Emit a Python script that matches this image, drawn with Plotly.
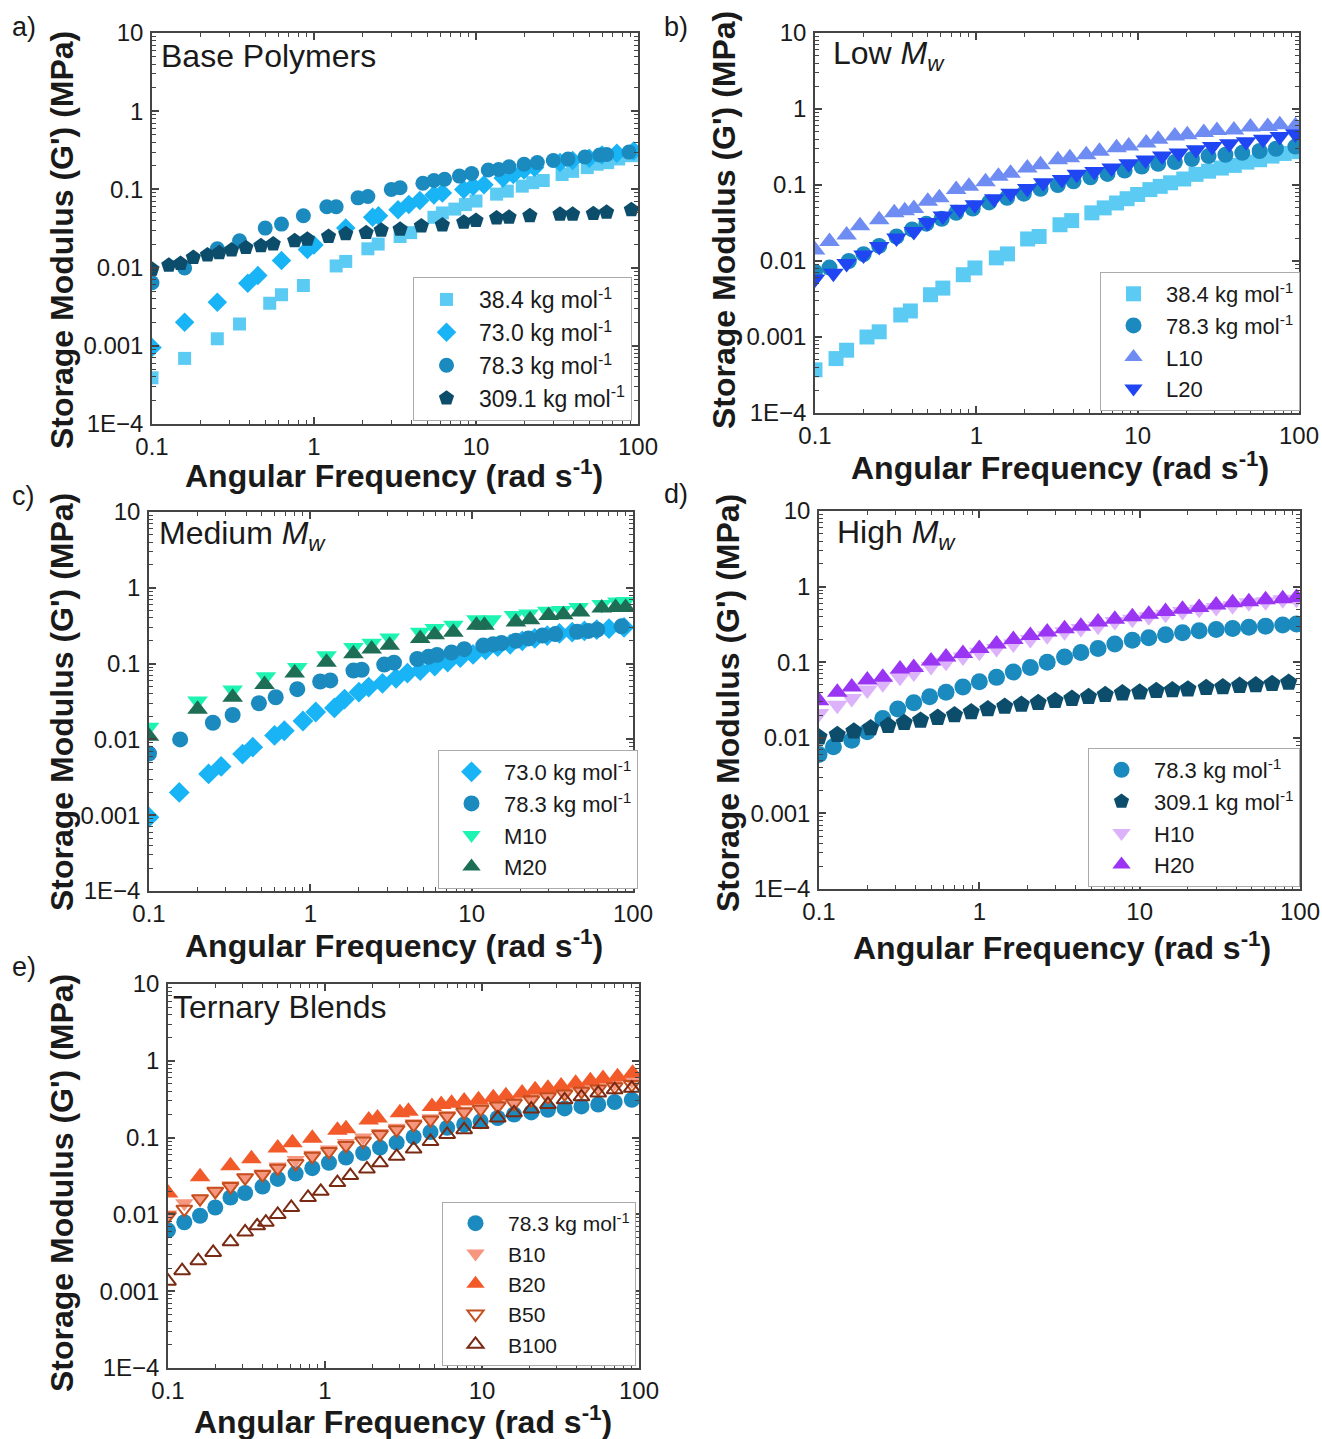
import plotly.graph_objects as go

W, H = 1322, 1439

# ---------------- data ----------------
# Panel a: Base Polymers
a_w_384 = [0.1, 0.159, 0.253, 0.347, 0.533, 0.63, 0.86, 1.37, 1.57, 2.15, 2.49, 3.4, 3.95, 5.5, 6.2, 7.4, 8.6, 10, 13.4, 15.6, 19.3, 22.4, 26, 34, 39.5, 48.6, 56, 65, 76, 91]
a_g_384 = [3.9e-4, 6.9e-4, 1.23e-3, 1.9e-3, 3.5e-3, 4.5e-3, 5.9e-3, 0.0105, 0.012, 0.0174, 0.02, 0.025, 0.028, 0.044, 0.05, 0.056, 0.064, 0.071, 0.087, 0.095, 0.11, 0.122, 0.13, 0.155, 0.17, 0.19, 0.21, 0.22, 0.245, 0.27]
a_w_730 = [0.1, 0.159, 0.253, 0.39, 0.45, 0.63, 0.91, 1.0, 1.57, 2.3, 2.5, 3.3, 3.85, 4.5, 5.5, 6.2, 8.4, 9.6, 11.2, 14.7, 17, 19.8, 23, 33, 39.5, 50, 60, 74, 94]
a_g_730 = [9.5e-4, 2.0e-3, 3.6e-3, 6.3e-3, 7.9e-3, 0.0123, 0.017, 0.0195, 0.032, 0.044, 0.046, 0.055, 0.064, 0.072, 0.085, 0.09, 0.1, 0.11, 0.115, 0.14, 0.155, 0.177, 0.19, 0.22, 0.235, 0.25, 0.275, 0.29, 0.31]
a_w_783 = [0.1, 0.159, 0.253, 0.347, 0.5, 0.63, 0.86, 1.2, 1.37, 1.87, 2.15, 3.0, 3.4, 4.7, 5.5, 6.4, 7.9, 9.4, 11.9, 13.8, 16, 19.8, 23.9, 30, 37, 47, 58, 64, 88]
a_g_783 = [6.4e-3, 9.9e-3, 0.0174, 0.022, 0.032, 0.036, 0.046, 0.06, 0.06, 0.078, 0.081, 0.1, 0.105, 0.12, 0.13, 0.135, 0.148, 0.16, 0.177, 0.18, 0.195, 0.21, 0.22, 0.234, 0.245, 0.26, 0.275, 0.28, 0.30]
a_w_3091 = [0.1, 0.127, 0.15, 0.18, 0.22, 0.26, 0.31, 0.38, 0.47, 0.56, 0.76, 0.91, 1.23, 1.57, 2.1, 2.6, 3.4, 4.6, 6.2, 8.4, 10, 13.4, 16, 21.5, 33, 39.5, 53, 64, 91]
a_g_3091 = [0.0095, 0.0107, 0.0113, 0.0135, 0.0145, 0.0155, 0.0168, 0.018, 0.019, 0.02, 0.022, 0.023, 0.025, 0.027, 0.028, 0.030, 0.031, 0.034, 0.035, 0.038, 0.040, 0.043, 0.044, 0.046, 0.048, 0.048, 0.049, 0.051, 0.055]

# Panel b: Low Mw
b_w_384 = [0.1, 0.135, 0.157, 0.21, 0.25, 0.34, 0.39, 0.52, 0.62, 0.83, 0.98, 1.33, 1.56, 2.08, 2.45, 3.3, 3.9, 5.2, 6.2, 7.4, 8.6, 10, 11.9, 13.8, 16, 19.3, 23, 27.5, 33, 39.7, 47.5, 57, 68, 81, 100]
b_g_384 = [3.7e-4, 5.2e-4, 6.7e-4, 1.0e-3, 1.17e-3, 1.95e-3, 2.2e-3, 3.6e-3, 4.4e-3, 6.6e-3, 8.1e-3, 0.011, 0.0124, 0.0195, 0.021, 0.030, 0.034, 0.043, 0.05, 0.058, 0.066, 0.075, 0.087, 0.096, 0.107, 0.12, 0.138, 0.152, 0.167, 0.181, 0.2, 0.215, 0.24, 0.26, 0.275]
b_w_783 = [0.1, 0.123, 0.162, 0.2, 0.25, 0.32, 0.4, 0.49, 0.61, 0.75, 0.95, 1.2, 1.55, 1.97, 2.5, 3.2, 4.0, 5.1, 6.5, 8.3, 10.6, 13.4, 17, 21.7, 27.5, 35, 44.5, 57, 72, 95]
b_g_783 = [7.2e-3, 8.2e-3, 0.01, 0.0123, 0.0158, 0.021, 0.026, 0.031, 0.036, 0.043, 0.049, 0.059, 0.068, 0.077, 0.089, 0.1, 0.112, 0.126, 0.14, 0.155, 0.175, 0.19, 0.2, 0.22, 0.24, 0.25, 0.265, 0.28, 0.30, 0.32]
b_w_L10 = [0.1, 0.123, 0.157, 0.19, 0.25, 0.31, 0.36, 0.41, 0.5, 0.59, 0.75, 0.9, 1.14, 1.37, 1.63, 2.07, 2.5, 3.2, 3.8, 4.8, 5.8, 7.4, 8.8, 11.3, 13.4, 17, 20.3, 25.7, 31, 39.5, 50, 64, 76, 95]
b_g_L10 = [0.014, 0.018, 0.022, 0.029, 0.035, 0.043, 0.046, 0.049, 0.061, 0.068, 0.087, 0.096, 0.11, 0.13, 0.143, 0.167, 0.185, 0.215, 0.228, 0.25, 0.277, 0.31, 0.325, 0.357, 0.4, 0.44, 0.46, 0.49, 0.52, 0.53, 0.58, 0.59, 0.62, 0.6]
b_w_L20 = [0.1, 0.13, 0.157, 0.2, 0.25, 0.32, 0.41, 0.5, 0.62, 0.79, 0.98, 1.29, 1.63, 2.07, 2.6, 3.4, 4.2, 5.4, 6.9, 8.8, 11.2, 14.2, 18, 23, 29, 37, 47, 60, 76, 95]
b_g_L20 = [5.8e-3, 6.9e-3, 9.3e-3, 0.012, 0.0155, 0.02, 0.0245, 0.032, 0.039, 0.048, 0.055, 0.066, 0.078, 0.09, 0.107, 0.118, 0.138, 0.151, 0.167, 0.19, 0.214, 0.24, 0.264, 0.29, 0.32, 0.35, 0.37, 0.4, 0.435, 0.47]

# Panel c: Medium Mw
c_w_730 = [0.1, 0.154, 0.234, 0.28, 0.38, 0.44, 0.6, 0.69, 0.9, 1.08, 1.41, 1.63, 2.0, 2.3, 2.8, 3.4, 4.0, 4.8, 5.9, 7.1, 8.5, 10.2, 12.2, 14.5, 17.3, 20.6, 24.6, 29.4, 35, 42, 50, 59.6, 71, 88]
c_g_730 = [9.4e-4, 2.0e-3, 3.5e-3, 4.4e-3, 6.4e-3, 7.9e-3, 0.0113, 0.013, 0.0175, 0.023, 0.026, 0.034, 0.042, 0.049, 0.055, 0.064, 0.075, 0.081, 0.093, 0.105, 0.12, 0.132, 0.152, 0.167, 0.18, 0.2, 0.215, 0.234, 0.25, 0.26, 0.27, 0.28, 0.29, 0.30]
c_w_783 = [0.1, 0.156, 0.249, 0.33, 0.48, 0.61, 0.83, 1.15, 1.33, 1.85, 2.08, 2.87, 3.3, 4.6, 5.4, 6.1, 7.5, 9.0, 11.8, 13.6, 15.3, 18.8, 22.5, 27.5, 33, 45, 53, 60, 85]
c_g_783 = [6.5e-3, 0.01, 0.0166, 0.021, 0.03, 0.036, 0.046, 0.058, 0.06, 0.081, 0.083, 0.097, 0.103, 0.115, 0.123, 0.13, 0.14, 0.155, 0.173, 0.18, 0.187, 0.2, 0.215, 0.234, 0.245, 0.263, 0.27, 0.28, 0.31]
c_w_M10 = [0.1, 0.2, 0.33, 0.53, 0.83, 1.26, 1.85, 2.4, 3.1, 4.8, 5.9, 7.7, 10.7, 13.3, 18.3, 22.5, 29.4, 36, 46, 64, 80, 90]
c_g_M10 = [0.0145, 0.032, 0.045, 0.067, 0.089, 0.127, 0.163, 0.185, 0.217, 0.26, 0.29, 0.32, 0.38, 0.38, 0.43, 0.45, 0.49, 0.5, 0.55, 0.6, 0.65, 0.66]
c_w_M20 = [0.1, 0.2, 0.33, 0.52, 0.8, 1.26, 1.85, 2.4, 3.1, 4.8, 5.9, 7.7, 10.7, 12, 18.8, 23, 30, 37, 47, 64, 78, 90]
c_g_M20 = [0.011, 0.025, 0.036, 0.053, 0.075, 0.104, 0.135, 0.156, 0.174, 0.215, 0.24, 0.26, 0.32, 0.32, 0.355, 0.38, 0.43, 0.44, 0.48, 0.54, 0.55, 0.55]

# Panel d: High Mw
d_w_783 = [0.1, 0.123, 0.16, 0.2, 0.25, 0.31, 0.39, 0.49, 0.62, 0.79, 1.0, 1.28, 1.63, 2.08, 2.65, 3.4, 4.3, 5.5, 7.0, 9.0, 11.4, 14.5, 18.5, 23.5, 30, 38, 48, 61, 78, 95]
d_g_783 = [6.0e-3, 7.6e-3, 9.3e-3, 0.012, 0.018, 0.024, 0.029, 0.035, 0.04, 0.047, 0.055, 0.063, 0.074, 0.085, 0.1, 0.117, 0.134, 0.152, 0.174, 0.195, 0.21, 0.23, 0.245, 0.26, 0.27, 0.28, 0.29, 0.30, 0.31, 0.32]
d_w_3091 = [0.1, 0.13, 0.165, 0.21, 0.27, 0.34, 0.43, 0.55, 0.7, 0.89, 1.13, 1.44, 1.83, 2.33, 2.97, 3.78, 4.8, 6.1, 7.8, 10, 12.7, 16, 20, 26, 33, 42, 53, 67, 85]
d_g_3091 = [0.0102, 0.011, 0.0122, 0.0135, 0.0145, 0.0158, 0.017, 0.0185, 0.02, 0.022, 0.024, 0.026, 0.0275, 0.029, 0.031, 0.033, 0.035, 0.037, 0.039, 0.040, 0.042, 0.043, 0.044, 0.046, 0.047, 0.049, 0.05, 0.052, 0.054]
d_w_H = [0.1, 0.13, 0.16, 0.2, 0.25, 0.32, 0.39, 0.5, 0.62, 0.79, 1.0, 1.28, 1.63, 2.08, 2.65, 3.4, 4.3, 5.5, 7.0, 9.0, 11.4, 14.5, 18.5, 23.5, 30, 38, 48, 61, 78, 95]
d_g_H10 = [0.021, 0.027, 0.033, 0.043, 0.052, 0.063, 0.072, 0.088, 0.1, 0.117, 0.135, 0.152, 0.174, 0.2, 0.224, 0.253, 0.28, 0.30, 0.345, 0.37, 0.40, 0.43, 0.47, 0.5, 0.53, 0.56, 0.61, 0.63, 0.67, 0.68]
d_g_H20 = [0.031, 0.04, 0.047, 0.058, 0.063, 0.081, 0.085, 0.104, 0.117, 0.13, 0.152, 0.174, 0.2, 0.225, 0.25, 0.276, 0.30, 0.34, 0.37, 0.40, 0.43, 0.47, 0.5, 0.53, 0.57, 0.61, 0.63, 0.67, 0.69, 0.72]

# Panel e: Ternary Blends
e_w = [0.1, 0.127, 0.16, 0.2, 0.25, 0.31, 0.4, 0.5, 0.65, 0.83, 1.06, 1.36, 1.75, 2.24, 2.86, 3.67, 4.7, 6.0, 7.7, 9.8, 12.6, 16, 20.6, 26.3, 33.6, 43, 55, 70, 90]
e_g_783 = [6.2e-3, 7.9e-3, 9.6e-3, 0.0123, 0.0166, 0.019, 0.023, 0.029, 0.034, 0.04, 0.047, 0.055, 0.063, 0.074, 0.086, 0.102, 0.118, 0.134, 0.148, 0.163, 0.18, 0.2, 0.213, 0.23, 0.24, 0.255, 0.27, 0.29, 0.31]
e_g_B10 = [0.01, 0.014, 0.016, 0.02, 0.024, 0.03, 0.034, 0.042, 0.051, 0.06, 0.07, 0.085, 0.1, 0.115, 0.134, 0.154, 0.178, 0.196, 0.224, 0.247, 0.27, 0.30, 0.33, 0.365, 0.40, 0.43, 0.47, 0.51, 0.55]
e_w_B20 = [0.1, 0.16, 0.25, 0.34, 0.5, 0.62, 0.83, 1.2, 1.36, 1.9, 2.16, 3.0, 3.4, 4.8, 5.5, 6.4, 7.7, 9.5, 11.8, 14.2, 18, 21.8, 26.3, 31.9, 39.5, 49, 59, 73, 91]
e_g_B20 = [0.019, 0.031, 0.043, 0.053, 0.073, 0.086, 0.098, 0.125, 0.13, 0.17, 0.18, 0.21, 0.22, 0.255, 0.27, 0.28, 0.30, 0.31, 0.33, 0.35, 0.38, 0.42, 0.44, 0.47, 0.51, 0.55, 0.59, 0.62, 0.69]
e_g_B50 = [0.0095, 0.0117, 0.016, 0.02, 0.023, 0.03, 0.033, 0.04, 0.046, 0.057, 0.066, 0.079, 0.09, 0.11, 0.127, 0.148, 0.17, 0.19, 0.215, 0.234, 0.257, 0.28, 0.31, 0.34, 0.37, 0.40, 0.43, 0.46, 0.49]
e_w_B100 = [0.1, 0.123, 0.156, 0.194, 0.25, 0.31, 0.37, 0.42, 0.5, 0.61, 0.78, 0.94, 1.2, 1.45, 1.85, 2.24, 2.86, 3.67, 4.7, 6.0, 7.7, 9.8, 12.6, 16, 20.6, 26.3, 33.6, 43, 55, 70, 90]
e_g_B100 = [1.35e-3, 1.85e-3, 2.5e-3, 3.2e-3, 4.4e-3, 5.9e-3, 7.1e-3, 7.9e-3, 0.01, 0.0123, 0.0166, 0.02, 0.026, 0.032, 0.039, 0.047, 0.057, 0.071, 0.089, 0.11, 0.127, 0.148, 0.18, 0.21, 0.235, 0.27, 0.31, 0.34, 0.38, 0.42, 0.44]

x_tickvals = [0.1, 1, 10, 100]
x_ticktext = ["0.1", "1", "10", "100"]
y_tickvals = [10, 1, 0.1, 0.01, 0.001, 0.0001]
y_ticktext = ["10", "1", "0.1", "0.01", "0.001", "1E\u22124"]

LBL = {
    "384": "38.4 kg mol<sup>-1</sup>",
    "730": "73.0 kg mol<sup>-1</sup>",
    "783": "78.3 kg mol<sup>-1</sup>",
    "3091": "309.1 kg mol<sup>-1</sup>",
}

# ---------------- styles ----------------
C384, C730, C783, C3091 = "#5CCBF3", "#19B4F5", "#1A8ABF", "#0D4D6C"
FONT = "Liberation Sans, Arial, sans-serif"

# panel boxes in pixels: (x_left, x_right, y_top, y_bottom)
boxes = {
    1: (152, 638, 33, 424),
    2: (815, 1299, 33, 413),
    3: (149, 633, 512, 891),
    4: (819, 1300, 511, 889),
    5: (168, 639, 984, 1368),
}
# legend boxes: (right, bottom, font size)
legpos = {1: (632, 421, 23), 2: (1300, 411, 22), 3: (638, 889, 22), 4: (1300, 887, 22), 5: (636, 1366, 21)}

fig = go.Figure()

def add(panel, x, y, name, symbol, color, size, open_=False):
    ax = "" if panel == 1 else str(panel)
    lg = "legend" if panel == 1 else "legend%d" % panel
    if open_:
        marker = dict(symbol=symbol, size=size, color=color, line=dict(color=color, width=2))
    else:
        marker = dict(symbol=symbol, size=size, color=color, line=dict(width=0))
    fig.add_trace(go.Scatter(x=x, y=y, mode="markers", name=name, marker=marker,
                             xaxis="x" + ax, yaxis="y" + ax, legend=lg,
                             legendgroup="p%d_%s" % (panel, name)))

# a
add(1, a_w_384, a_g_384, LBL["384"], "square", C384, 13)
add(1, a_w_730, a_g_730, LBL["730"], "diamond", C730, 15)
add(1, a_w_783, a_g_783, LBL["783"], "circle", C783, 15)
add(1, a_w_3091, a_g_3091, LBL["3091"], "pentagon", C3091, 16)
# b
add(2, b_w_384, b_g_384, LBL["384"], "square", C384, 15)
add(2, b_w_783, b_g_783, LBL["783"], "circle", C783, 16)
add(2, b_w_L10, b_g_L10, "L10", "triangle-up", "#6F8CF3", 18)
add(2, b_w_L20, b_g_L20, "L20", "triangle-down", "#1F46F2", 18)
# c
add(3, c_w_730, c_g_730, LBL["730"], "diamond", C730, 16)
add(3, c_w_783, c_g_783, LBL["783"], "circle", C783, 16)
add(3, c_w_M10, c_g_M10, "M10", "triangle-down", "#1EF4B2", 18)
add(3, c_w_M20, c_g_M20, "M20", "triangle-up", "#1E6E56", 18)
# d
add(4, d_w_783, d_g_783, LBL["783"], "circle", C783, 17)
add(4, d_w_3091, d_g_3091, LBL["3091"], "pentagon", C3091, 18)
add(4, d_w_H, d_g_H10, "H10", "triangle-down", "#DCB2FA", 18)
add(4, d_w_H, d_g_H20, "H20", "triangle-up", "#9A36F3", 18)
# e
add(5, e_w, e_g_783, LBL["783"], "circle", C783, 16)
add(5, e_w, e_g_B10, "B10", "triangle-down", "#F6967F", 16)
add(5, e_w_B20, e_g_B20, "B20", "triangle-up", "#F25A2A", 18)
add(5, e_w, e_g_B50, "B50", "triangle-down-open", "#C44E1E", 14, open_=True)
add(5, e_w_B100, e_g_B100, "B100", "triangle-up-open", "#7A2A12", 14, open_=True)

layout = dict(
    width=W, height=H, margin=dict(l=0, r=0, t=0, b=0, autoexpand=False),
    paper_bgcolor="white", plot_bgcolor="white",
    font=dict(family=FONT, color="#1a1a1a", size=24),
    showlegend=True,
)

axcol = "#444444"
for p, (x0, x1, yt, yb) in boxes.items():
    ax = "" if p == 1 else str(p)
    layout["xaxis" + ax] = dict(
        type="log", range=[-1, 2], domain=[x0 / W, x1 / W], anchor="y" + ax,
        automargin=False,
        tickmode="array", tickvals=x_tickvals, ticktext=x_ticktext,
        ticks="inside", ticklen=7, tickwidth=1.5, tickcolor=axcol,
        showline=True, linecolor=axcol, linewidth=1.5, mirror="allticks",
        showgrid=False, zeroline=False,
        tickfont=dict(size=24, family=FONT, color="#1a1a1a"),
        minor=dict(ticks="inside", ticklen=4, tickwidth=1, tickcolor=axcol, dtick="D1", showgrid=False),
    )
    layout["yaxis" + ax] = dict(
        type="log", range=[-4, 1], domain=[1 - yb / H, 1 - yt / H], anchor="x" + ax,
        automargin=False,
        tickmode="array", tickvals=y_tickvals, ticktext=y_ticktext,
        ticks="inside", ticklen=7, tickwidth=1.5, tickcolor=axcol,
        showline=True, linecolor=axcol, linewidth=1.5, mirror="allticks",
        showgrid=False, zeroline=False, ticklabelstandoff=2,
        tickfont=dict(size=24, family=FONT, color="#1a1a1a"),
        minor=dict(ticks="inside", ticklen=4, tickwidth=1, tickcolor=axcol, dtick="D1", showgrid=False),
    )
    lg = "legend" if p == 1 else "legend%d" % p
    r, b, fs = legpos[p]
    layout[lg] = dict(
        x=r / W, y=1 - b / H, xanchor="right", yanchor="bottom",
        bgcolor="white", bordercolor="#aaaaaa", borderwidth=1,
        font=dict(size=fs, family=FONT, color="#1a1a1a"),
        tracegroupgap=0, itemwidth=55, traceorder="normal",
    )

ann = []
def A(text, x, y, size, bold=False, angle=0, xanchor="center", yanchor="middle"):
    t = "<b>%s</b>" % text if bold else text
    ann.append(dict(text=t, x=x / W, y=1 - y / H, xref="paper", yref="paper",
                    showarrow=False, textangle=angle, xanchor=xanchor, yanchor=yanchor,
                    font=dict(size=size, family=FONT, color="#1a1a1a")))

xt = "Angular Frequency (rad s<sup>-1</sup>)"
yt = "Storage Modulus (G') (MPa)"
# axis titles
for (cx, cy) in [(394, 474), (1060, 466), (394, 944), (1062, 946), (403, 1420)]:
    A(xt, cx, cy, 32, bold=True)
for (cx, cy) in [(62, 240), (724, 220), (62, 702), (728, 703), (62, 1183)]:
    A(yt, cx, cy, 32, bold=True, angle=-90)
# panel letters
for (t, lx, ly) in [("a)", 10, 27), ("b)", 662, 27), ("c)", 10, 496), ("d)", 662, 494), ("e)", 10, 967)]:
    A(t, lx, ly, 27, xanchor="left")
# inner titles
A("Base Polymers", 159, 56, 32, xanchor="left")
A("Low <i>M</i><sub><i>w</i></sub>", 831, 56, 32, xanchor="left")
A("Medium <i>M</i><sub><i>w</i></sub>", 157, 535, 32, xanchor="left")
A("High <i>M</i><sub><i>w</i></sub>", 835, 534, 32, xanchor="left")
A("Ternary Blends", 171, 1007, 32, xanchor="left")

layout["annotations"] = ann
fig.update_layout(**layout)
fig.write_html("out.html")
